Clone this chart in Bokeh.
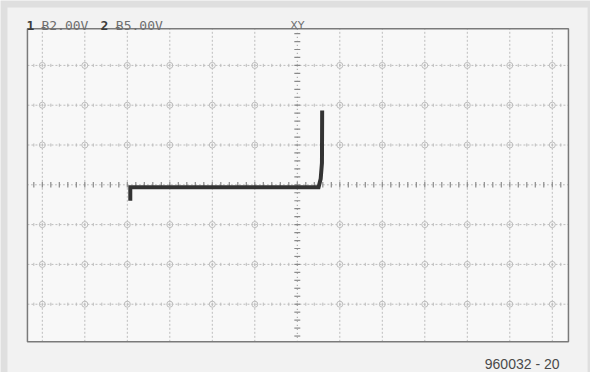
import numpy as np
from bokeh.plotting import figure
from bokeh.models import Range1d
from bokeh.core.properties import value
from bokeh.embed import file_html
from bokeh.resources import INLINE

# ---- data (in screen divisions) ----
trace_x = [-3.93, -3.93, 0.50, 0.55, 0.58, 0.585]
trace_y = [-0.40, -0.06, -0.06, 0.15, 0.55, 1.87]

grid_x = [-6, -5, -4, -3, -2, -1, 1, 2, 3, 4, 5, 6]
grid_y = [-3, -2, -1, 1, 2, 3]

ch1_num = "1"
ch1_label = "Ƀ2.00V"
ch2_num = "2"
ch2_label = "Ƀ5.00V"
mode_label = "XY"
fig_id = "960032 - 20"

# canvas mapping: px = 296.8 + 42.5*x ; py = 184.3 - 39.8*y
CX0, CX1 = -6.984, 6.899
CY0, CY1 = -4.716, 4.631
# oscilloscope screen box
X0, X1 = -6.35, 6.38
Y0, Y1 = -3.945, 3.92
# light panel
PX0, PX1 = -6.82, 6.83
PY0, PY1 = -4.8, 4.455

p = figure(width=590, height=372, output_backend="svg", toolbar_location=None,
           x_range=Range1d(CX0, CX1), y_range=Range1d(CY0, CY1),
           min_border=0, min_border_left=0, min_border_right=0,
           min_border_top=0, min_border_bottom=0)
p.xaxis.visible = False
p.yaxis.visible = False
p.xgrid.visible = False
p.ygrid.visible = False
p.outline_line_color = None
p.background_fill_color = "#dfdfdf"
p.border_fill_color = "#dfdfdf"

# panels
p.quad(left=[PX0], right=[PX1], bottom=[PY0], top=[PY1], fill_color="#f2f2f2", line_color=None)
p.quad(left=[X0], right=[X1], bottom=[Y0], top=[Y1], fill_color="#f8f8f8", line_color=None)

grid_col = "#bdbdbd"
# vertical dotted grid lines
p.segment(x0=grid_x, y0=[Y0] * len(grid_x), x1=grid_x, y1=[Y1] * len(grid_x),
          line_color=grid_col, line_width=1, line_dash="2 2")
# horizontal dotted grid lines
p.segment(x0=[X0] * len(grid_y), y0=grid_y, x1=[X1] * len(grid_y), y1=grid_y,
          line_color=grid_col, line_width=1, line_dash="2 2")
# small ticks along horizontal grid lines
mx = np.round(np.arange(-6.2, 6.21, 0.2), 2)
gx, gy = np.meshgrid(mx, grid_y)
p.segment(x0=gx.ravel(), y0=gy.ravel() - 0.04, x1=gx.ravel(), y1=gy.ravel() + 0.04,
          line_color=grid_col, line_width=1)
# intersection circles
ix, iy = np.meshgrid(grid_x, grid_y)
p.scatter(ix.ravel(), iy.ravel(), marker="circle", size=6, fill_color=None,
          line_color=grid_col, line_width=1)

# center axes with minor ticks
axis_col = "#8a8a8a"
p.segment(x0=[X0], y0=[0], x1=[X1], y1=[0], line_color=axis_col, line_width=1, line_dash="1 3")
p.segment(x0=[0], y0=[Y0], x1=[0], y1=[Y1], line_color=axis_col, line_width=1, line_dash="1 3")
p.segment(x0=mx, y0=-0.07, x1=mx, y1=0.07, line_color=axis_col, line_width=1.2)
my = np.round(np.arange(-3.8, 3.81, 0.2), 2)
p.segment(x0=-0.07, y0=my, x1=0.07, y1=my, line_color=axis_col, line_width=1.2)

# screen outline
p.quad(left=[X0], right=[X1], bottom=[Y0], top=[Y1], fill_color=None,
       line_color="#7a7a7a", line_width=1.5)

# trace
p.line(trace_x, trace_y, line_color="#333333", line_width=4, line_join="miter")

# labels
mono = value("DejaVu Sans Mono")
base_y = 4.015
p.text(x=[-6.37], y=[base_y], text=[ch1_num], text_font=mono, text_font_size="13px",
       text_font_style="bold", text_color="#3c3c3c", text_baseline="alphabetic")
p.text(x=[-6.02], y=[base_y], text=[ch1_label], text_font=mono, text_font_size="13px",
       text_color="#6e6e6e", text_baseline="alphabetic")
p.text(x=[-4.63], y=[base_y], text=[ch2_num], text_font=mono, text_font_size="13px",
       text_font_style="bold", text_color="#3c3c3c", text_baseline="alphabetic")
p.text(x=[-4.27], y=[base_y], text=[ch2_label], text_font=mono, text_font_size="13px",
       text_color="#6e6e6e", text_baseline="alphabetic")
p.text(x=[0.0], y=[base_y], text=[mode_label], text_font=value("DejaVu Sans"), text_font_size="11px",
       text_color="#6e6e6e", text_align="center", text_baseline="alphabetic")
p.text(x=[6.17], y=[-4.50], text=[fig_id], text_font=value("Liberation Sans"), text_font_size="14px",
       text_color="#4a4a4a", text_align="right", text_baseline="alphabetic")

open("out.html", "w").write(file_html(p, INLINE))
